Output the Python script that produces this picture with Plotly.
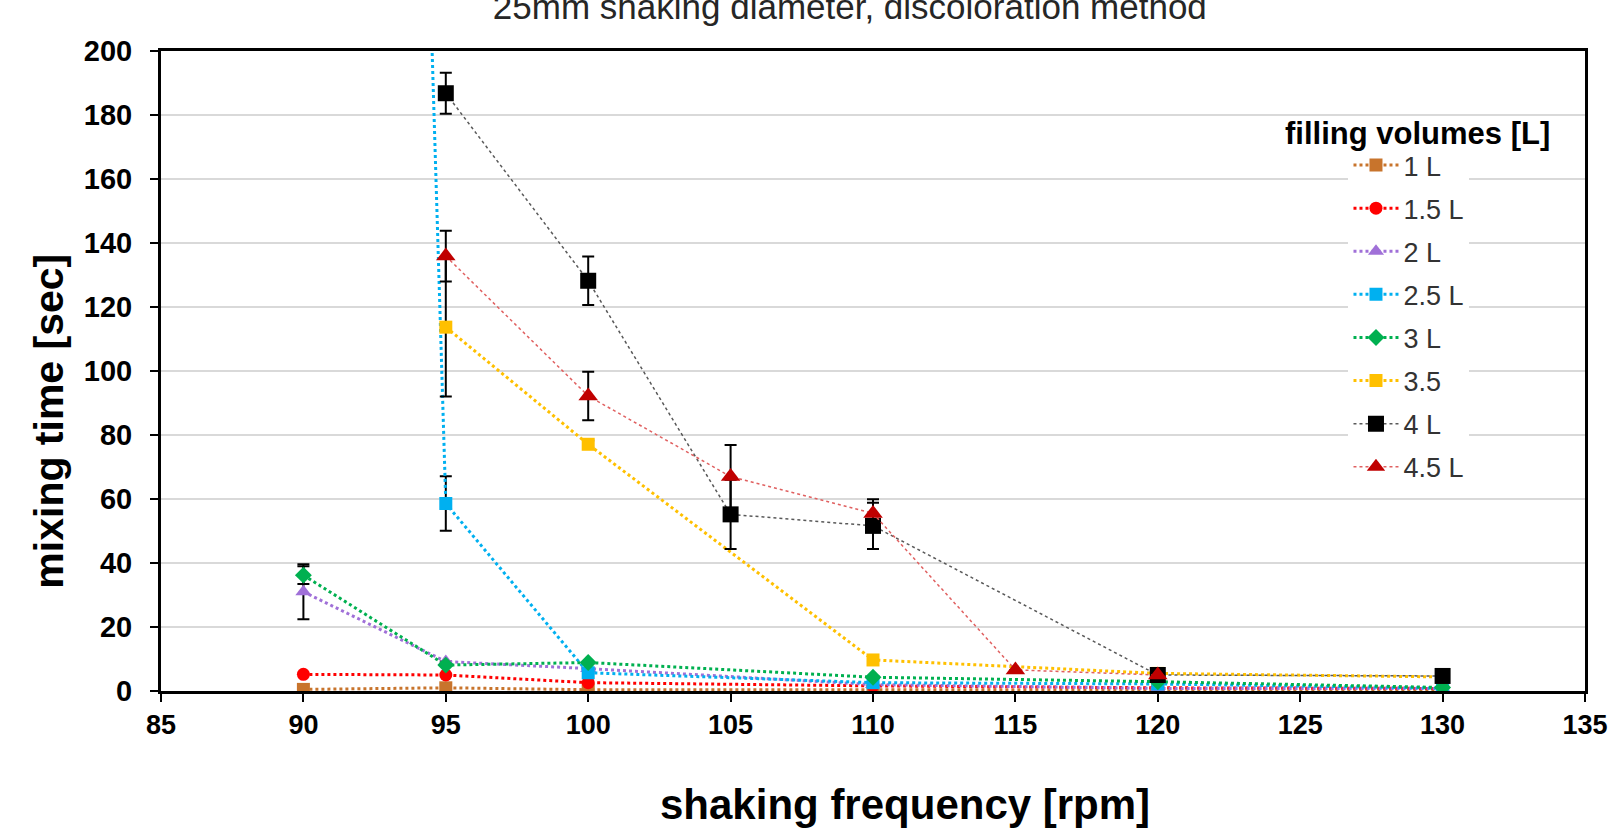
import plotly.graph_objects as go

# ---- data ----
names = ["1 L", "1.5 L", "2 L", "2.5 L", "3 L", "3.5", "4 L", "4.5 L"]

x_1 = [90, 95, 100, 110, 120, 130]
y_1 = [0.5, 1.0, 0.4, 0.3, 0.3, 0.3]

x_15 = [90, 95, 100, 110, 120, 130]
y_15 = [5.2, 5.0, 2.6, 1.6, 1.0, 0.8]

x_2 = [90, 95, 100, 110, 120, 130]
y_2 = [31.0, 9.2, 7.0, 2.0, 0.8, 0.8]
e_2 = [8.6, 0, 0, 0, 0, 0]

x_25 = [90, 95, 100, 110, 120, 130]
y_25 = [1530, 58.6, 5.7, 2.6, 2.2, 0.9]
e_25 = [0, 8.5, 0, 0, 0, 0]

x_3 = [90, 95, 100, 110, 120, 130]
y_3 = [36.2, 8.1, 8.9, 4.3, 2.9, 1.1]
e_3 = [2.8, 0, 0, 0, 0, 0]

x_35 = [95, 100, 110, 120, 130]
y_35 = [113.7, 77.1, 9.7, 5.5, 4.4]
e_35 = [21.7, 1.2, 0, 0, 0]

x_4 = [95, 100, 105, 110, 120, 130]
y_4 = [186.8, 128.2, 55.2, 51.6, 5.0, 4.7]
e_4 = [6.4, 7.6, 10.8, 7.2, 0, 0]

x_45 = [95, 100, 105, 110, 115, 120]
y_45 = [135.9, 92.2, 67.0, 55.5, 6.6, 5.0]
e_45 = [7.9, 7.6, 9.9, 4.4, 0, 0]

x_ticks = [85, 90, 95, 100, 105, 110, 115, 120, 125, 130, 135]
y_ticks = [0, 20, 40, 60, 80, 100, 120, 140, 160, 180, 200]

title_text = "25mm shaking diameter, discoloration method"
x_title = "shaking frequency [rpm]"
y_title = "mixing time [sec]"
legend_title = "filling volumes [L]"

FONT = "Liberation Sans, Arial, sans-serif"

series = [
    # name, x, y, err, line color, marker color, symbol, msize, lwidth
    (names[0], x_1, y_1, None, "#C8742C", "#C8742C", "square", 13, 3),
    (names[1], x_15, y_15, None, "#FF0000", "#FF0000", "circle", 13, 3),
    (names[2], x_2, y_2, e_2, "#A070D8", "#A070D8", "triangle-up", 14, 3),
    (names[3], x_25, y_25, e_25, "#00B0F0", "#00B0F0", "square", 13, 3),
    (names[4], x_3, y_3, e_3, "#00B050", "#00B050", "diamond", 13, 3),
    (names[5], x_35, y_35, e_35, "#FFC000", "#FFC000", "square", 13, 3),
    (names[6], x_4, y_4, e_4, "#595959", "#000000", "square", 16, 1.5),
    (names[7], x_45, y_45, e_45, "#E06060", "#C00000", "triangle-up", 17, 1.5),
]

fig = go.Figure()
for i, (nm, xs, ys, es, lc, mc, sym, ms, lw) in enumerate(series):
    kw = {}
    if es is not None:
        kw["error_y"] = dict(type="data", array=es, visible=True,
                             color="#000000", thickness=2, width=6)
    fig.add_trace(go.Scatter(
        x=xs, y=ys, name=nm, mode="lines+markers",
        line=dict(color=lc, width=lw, dash="dot"),
        marker=dict(color=mc, symbol=sym, size=ms, line=dict(width=0)),
        legendgroup=nm, **kw))

L, R, T, B = 161, 14, 51, 145
W, H = 1620, 836
pw = W - L - R
ph = H - T - B

fig.update_layout(
    width=W, height=H,
    margin=dict(l=L, r=R, t=T, b=B),
    paper_bgcolor="white", plot_bgcolor="white",
    font=dict(family=FONT, color="#000000"),
    showlegend=True,
    legend=dict(
        x=(1366 - L) / pw, y=1 - (141 - T) / ph, xanchor="left", yanchor="top",
        bgcolor="white", borderwidth=0,
        font=dict(size=27, family=FONT, color="#333333"),
        itemwidth=45, tracegroupgap=5, traceorder="grouped",
    ),
    xaxis=dict(
        range=[85, 135], tickmode="array", tickvals=x_ticks,
        ticktext=[str(v) for v in x_ticks],
        showgrid=False, zeroline=False,
        showline=True, linecolor="#000000", linewidth=3, mirror=True,
        ticks="outside", ticklen=8, tickwidth=1.5, tickcolor="#000000",
        tickfont=dict(size=27, family=FONT, weight="bold"),
        ticklabeloverflow="allow",
    ),
    yaxis=dict(
        range=[0, 200], tickmode="array", tickvals=y_ticks,
        ticktext=[str(v) for v in y_ticks],
        showgrid=True, gridcolor="#D9D9D9", gridwidth=1.5, zeroline=False,
        showline=True, linecolor="#000000", linewidth=3, mirror=True,
        ticks="outside", ticklen=8, tickwidth=1.5, tickcolor="#000000",
        tickfont=dict(size=29, family=FONT, weight="bold"),
        ticklabelstandoff=12,
    ),
    title=dict(text=title_text, x=(860 - L) / pw, xref="paper", xanchor="center",
               y=1 - 7 / H, yref="container", yanchor="middle",
               font=dict(size=35, family=FONT, color="#262626")),
    annotations=[
        dict(text=legend_title, xref="paper", yref="paper",
             x=(1436 - L) / pw, y=1 - (133 - T) / ph, xanchor="center", yanchor="middle",
             showarrow=False, font=dict(size=31, family=FONT, weight="bold", color="#000000")),
        dict(text=x_title, xref="paper", yref="paper",
             x=(916 - L) / pw, y=1 - (804 - T) / ph, xanchor="center", yanchor="middle",
             showarrow=False, font=dict(size=42, family=FONT, weight="bold", color="#000000")),
        dict(text=y_title, xref="paper", yref="paper", textangle=-90,
             x=(47 - L) / pw, y=1 - (421 - T) / ph, xanchor="center", yanchor="middle",
             showarrow=False, font=dict(size=41, family=FONT, weight="bold", color="#000000")),
    ],
)

fig.write_html("out.html")
